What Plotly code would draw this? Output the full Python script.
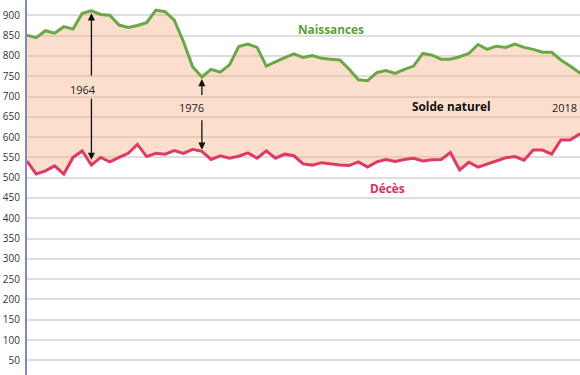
import plotly.graph_objects as go

years = list(range(1957, 2019))
naissances = [851, 845, 862, 856, 872, 866, 905, 911, 902, 900,
              876, 870, 875, 882, 913, 909, 888, 835, 773, 748,
              767, 760, 778, 823, 829, 821, 775, 786, 796, 805,
              796, 801, 794, 792, 790, 767, 741, 739, 759, 764,
              757, 767, 775, 806, 802, 792, 792, 798, 806, 828,
              816, 824, 821, 829, 821, 816, 809, 809, 790, 775,
              759, 746]
deces = [541, 509, 517, 529, 509, 550, 566, 531, 550, 539,
         550, 560, 582, 552, 560, 558, 567, 560, 570, 565,
         545, 554, 548, 553, 561, 548, 566, 548, 558, 554,
         534, 531, 537, 534, 531, 530, 539, 526, 539, 545,
         540, 545, 548, 541, 544, 545, 562, 519, 538, 526,
         534, 542, 549, 552, 543, 568, 568, 558, 593, 593,
         607, 610]
ytick_vals = list(range(50, 901, 50))

GREEN = "#69a845"
RED = "#de3a63"
FONT = "Open Sans"

fig = go.Figure()
fig.add_trace(go.Scatter(x=years, y=deces, mode="lines",
                         line=dict(color=RED, width=3), hoverinfo="skip"))
fig.add_trace(go.Scatter(x=years, y=naissances, mode="lines",
                         line=dict(color=GREEN, width=3),
                         fill="tonexty", fillcolor="rgba(248,172,130,0.4)",
                         hoverinfo="skip"))

ann = []
def arrow(x, head, tail):
    ann.append(dict(x=x, y=head, ax=x, ay=tail, xref="x", yref="y",
                    axref="x", ayref="y", text="", showarrow=True,
                    arrowhead=2, arrowsize=1.1, arrowwidth=1.3,
                    arrowcolor="#111"))

arrow(1964, 905, 748)
arrow(1964, 544, 698)
arrow(1976, 743, 700)
arrow(1976, 569, 645)

def label(x, y, t, color="#222", bold=False, size=11, xanchor="center"):
    ann.append(dict(x=x, y=y, xref="x", yref="y", text=("<b>%s</b>" % t) if bold else t,
                    showarrow=False, xanchor=xanchor, yanchor="middle",
                    font=dict(family=FONT, size=size, color=color)))

label(1963.1, 718, "1964")
label(1974.9, 672, "1976")
label(2016.95, 673, "2018", xanchor="right")
label(1990.05, 866, "Naissances", color="#5f9e3c", bold=True, size=11.8)
label(2003.1, 677, "Solde naturel", color="#111", bold=True, size=11.8)
label(1996.2, 474, "Décès", color="#d6305a", bold=True, size=11.8)

fig.update_layout(
    width=580, height=375,
    margin=dict(l=27, r=0, t=0, b=0),
    paper_bgcolor="white", plot_bgcolor="white",
    showlegend=False,
    annotations=ann,
    xaxis=dict(range=[1957, 2017.08], showgrid=False, showticklabels=False,
               zeroline=False, showline=False, fixedrange=True),
    yaxis=dict(range=[14.0, 937.7], tickvals=ytick_vals,
               showgrid=True, gridcolor="#dedede", gridwidth=2,
               zeroline=False, showline=True, linecolor="#8088c8", linewidth=2,
               ticks="", ticklabelstandoff=3, automargin=False,
               tickfont=dict(family=FONT, size=10, color="#333"),
               fixedrange=True),
)

fig.write_html("out.html", config={"displayModeBar": False},
               post_script="document.body.style.margin='0';document.body.style.overflow='hidden';")
